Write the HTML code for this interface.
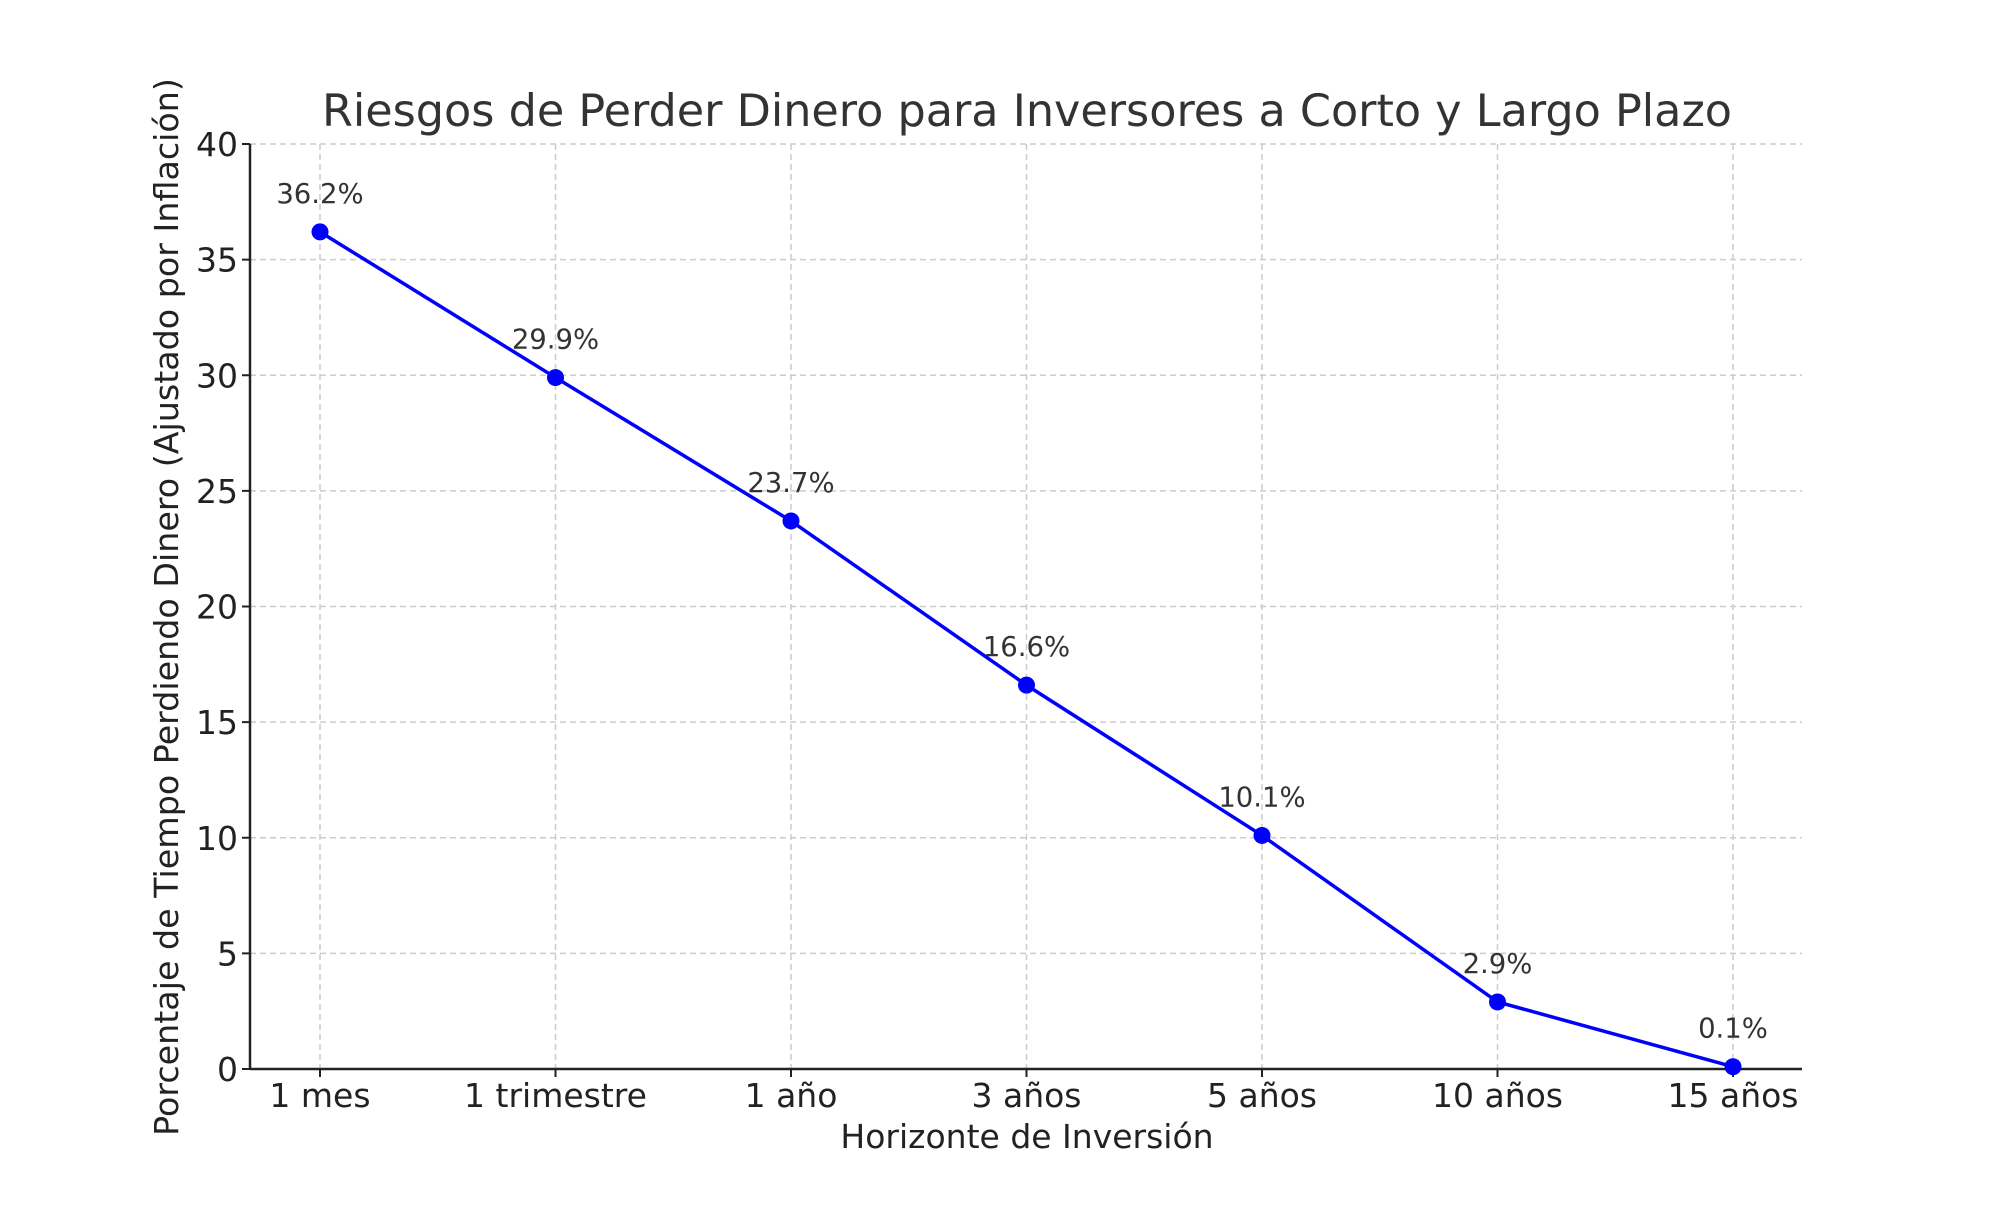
<!DOCTYPE html>
<html><head><meta charset="utf-8"><style>
body{margin:0;background:#fff}
svg text{font-family:"DejaVu Sans","Liberation Sans",sans-serif}
</style></head><body>
<svg id="chart" width="2000" height="1200" viewBox="0 0 2000 1200" xmlns="http://www.w3.org/2000/svg">
<rect width="2000" height="1200" fill="#fff"/>
<text x="1027" y="126" text-anchor="middle" font-size="44.5" fill="#333">Riesgos de Perder Dinero para Inversores a Corto y Largo Plazo</text>
<g id="grid"></g><g id="axes"></g><g id="series"></g>
<text x="1027" y="1148" text-anchor="middle" font-size="33" fill="#222">Horizonte de Inversión</text>
<text transform="translate(178,607) rotate(-90)" text-anchor="middle" font-size="33.3" fill="#222">Porcentaje de Tiempo Perdiendo Dinero (Ajustado por Inflación)</text>
</svg>
<script>
const categories=["1 mes","1 trimestre","1 año","3 años","5 años","10 años","15 años"];
const values=[36.2,29.9,23.7,16.6,10.1,2.9,0.1];
const yTicks=[0,5,10,15,20,25,30,35,40];
const NS="http://www.w3.org/2000/svg";
const L=250,R=1802,T=144,B=1069,x0=320,dx=235.5;
const xs=i=>x0+i*dx, ys=v=>B-(v/40)*(B-T);
function mk(p,tag,a){const e=document.createElementNS(NS,tag);for(const k in a)e.setAttribute(k,a[k]);p.appendChild(e);return e;}
const g=document.getElementById('grid'),ax=document.getElementById('axes'),s=document.getElementById('series');
yTicks.forEach(v=>{
 const l=mk(g,'line',{x1:L,x2:R,y1:ys(v),y2:ys(v),stroke:'#ccc','stroke-dasharray':'6,4','stroke-width':1.5});
 
 
 mk(ax,'line',{x1:L-8,x2:L,y1:ys(v),y2:ys(v),stroke:'#222','stroke-width':2});
 const t=mk(ax,'text',{x:L-12,y:ys(v)+12,'text-anchor':'end','font-size':33,fill:'#222'});t.textContent=v;
 
 
});
categories.forEach((c,i)=>{
 const l=mk(g,'line',{x1:xs(i),x2:xs(i),y1:T,y2:B,stroke:'#ccc','stroke-dasharray':'6,4','stroke-width':1.5});
 
 
 mk(ax,'line',{x1:xs(i),x2:xs(i),y1:B,y2:B+8,stroke:'#222','stroke-width':2});
 const t=mk(ax,'text',{x:xs(i),y:B+38,'text-anchor':'middle','font-size':33,fill:'#222'});t.textContent=c;
 
 
});
mk(ax,'line',{x1:L,x2:L,y1:T,y2:B,stroke:'#222','stroke-width':2.5});
mk(ax,'line',{x1:L,x2:R,y1:B,y2:B,stroke:'#222','stroke-width':2.5});
const pl=mk(s,'polyline',{points:values.map((v,i)=>xs(i)+','+ys(v)).join(' '),fill:'none',stroke:'#0000ff','stroke-width':3.5});


values.forEach((v,i)=>{
 const c=mk(s,'circle',{cx:xs(i),cy:ys(v),r:8.5,fill:'#0000ff'});
 
 
 const t=mk(s,'text',{x:xs(i),y:ys(v)-29,'text-anchor':'middle','font-size':27.5,fill:'#333'});t.textContent=v.toFixed(1)+'%';
 
 
});
</script>
</body></html>
